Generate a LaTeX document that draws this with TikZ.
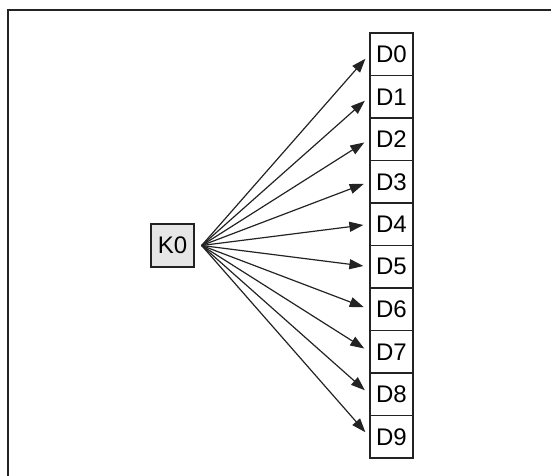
\documentclass[tikz,border=0pt]{standalone}
\usepackage{fontspec}
\setmainfont{Liberation Sans}
\usepackage{tikz}
\usetikzlibrary{positioning, arrows.meta}
\definecolor{keyfill}{RGB}{230,230,230}
\definecolor{linec}{RGB}{35,35,35}

\begin{document}
\begin{tikzpicture}[x=1pt, y=-1pt, font=\fontsize{24pt}{28pt}\selectfont,
  >={Triangle[length=14pt, width=10pt]},
  % key box and the column of data cells
  keybox/.style={draw=linec, fill=keyfill, line width=1.3pt, minimum size=43pt, inner sep=0pt},
  dcell/.style={draw=linec, fill=white, line width=1.3pt, minimum width=43pt, minimum height=42.5pt, inner sep=0pt},
  fanline/.style={->, linec, line width=1.2pt, shorten >=6pt},
]

%% ── canvas and frame (top and left edges only) ───────────────────
\useasboundingbox (0,0) rectangle (551,476);
\draw[linec, line width=1.5pt] (551,10) -- (8,10) -- (8,476);

%% ── key ──────────────────────────────────────────────────────────
\node[keybox] (k0) at (172.5,245.5) {K0};
\coordinate (fan) at ([xshift=7pt]k0.east);

%% ── data cells D0..D9 and the fan of arrows ─────────────────────
\foreach \i in {0,...,9}{
  \node[dcell] (d\i) at (391.5,54.25+42.5*\i) {D\i};
}
\foreach \i in {0,...,9}{
  \draw[fanline] (fan) -- (d\i.west);
}

\end{tikzpicture}
\end{document}
